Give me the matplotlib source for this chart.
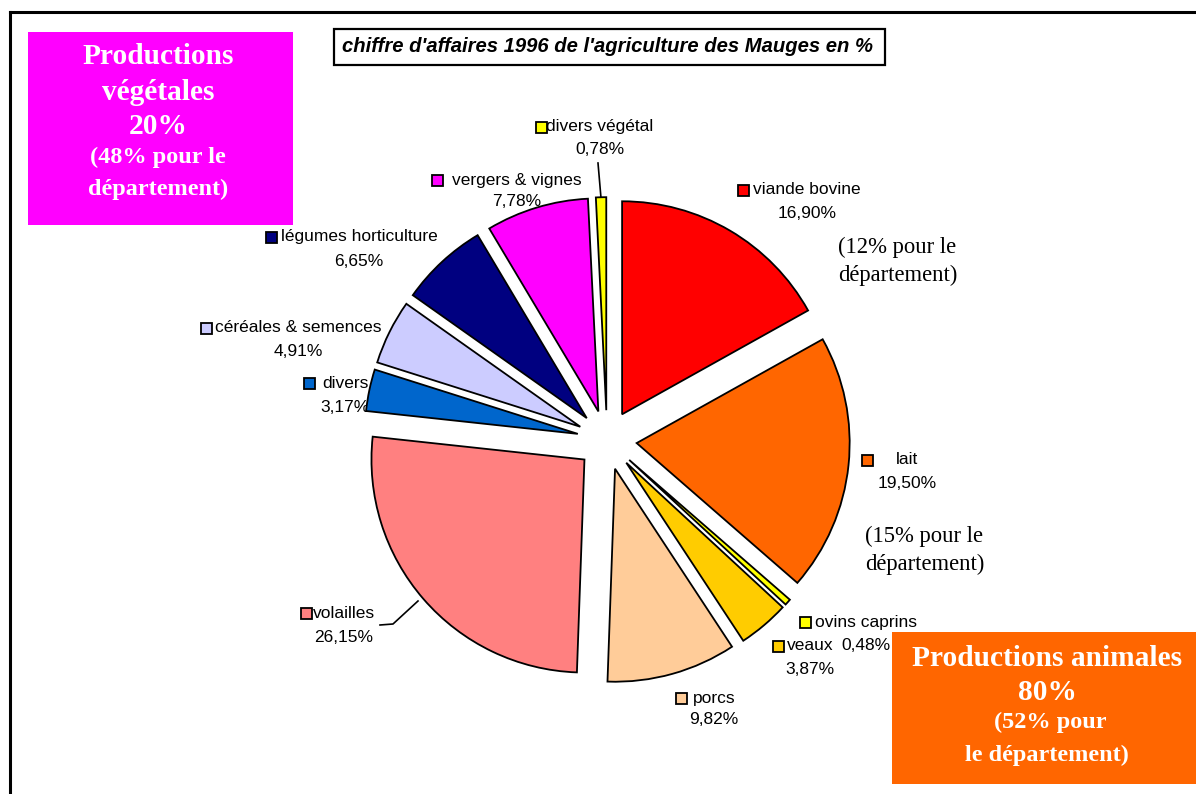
import matplotlib
matplotlib.use("Agg")
import matplotlib.pyplot as plt
from matplotlib.patches import Rectangle
from matplotlib.lines import Line2D

# ---------------- data ----------------
categories = ["viande bovine", "lait", "ovins caprins", "veaux", "porcs", "volailles",
              "divers", "céréales & semences", "légumes horticulture",
              "vergers & vignes", "divers végétal"]
values = [16.90, 19.50, 0.48, 3.87, 9.82, 26.15, 3.17, 4.91, 6.65, 7.78, 0.78]
colors = ["#FF0000", "#FF6600", "#FFFF00", "#FFCC00", "#FFCC99", "#FF8080",
          "#0066CC", "#CCCCFF", "#000080", "#FF00FF", "#FFFF00"]
title = "chiffre d'affaires 1996 de l'agriculture des Mauges en %"
veg_box = ["Productions", "végétales", "20%", "(48% pour le", "département)"]
ani_box = ["Productions animales", "80%", "(52% pour", "le département)"]
note_bovine = ["(12% pour le", "département)"]
note_lait = ["(15% pour le", "département)"]

# ---------------- layout (image pixel coords, y downwards) ----------------
W, H = 1196, 794
# label block: (center x, name y, pct y, square left x)
label_pos = [(807, 190, 213, 738), (907, 460, 483, 862), (866, 622, 645, 800),
             (810, 646, 669, 773), (714, 698, 719, 676), (344, 613, 637, 301),
             (345, 383, 407, 304), (298, 328, 352, 201), (359, 237, 262, 266),
             (517, 180, 201, 432), (600, 127, 150, 536)]
cx, cy, R = 607, 440, 213

fig = plt.figure(figsize=(W / 100, H / 100), dpi=100)
bg = fig.add_axes([0, 0, 1, 1])
bg.set_xlim(0, W)
bg.set_ylim(H, 0)
bg.axis("off")

# pie axes
half = 320
pax = fig.add_axes([(cx - half) / W, (H - cy - half) / H, 2 * half / W, 2 * half / H])
pax.pie(values, colors=colors, startangle=90, counterclock=False,
        explode=[0.14] * len(values), radius=1,
        wedgeprops=dict(edgecolor="black", linewidth=1.3))
lim = half / R
pax.set_xlim(-lim, lim)
pax.set_ylim(-lim, lim)
pax.set_aspect("equal")
pax.axis("off")

sans = "Liberation Sans"
serif = "Liberation Serif"

# frame
bg.add_line(Line2D([10, W], [12, 12], color="black", lw=2.2))
bg.add_line(Line2D([10, 10], [12, H], color="black", lw=2.2))

# title box
bg.add_patch(Rectangle((334, 29), 551, 36, facecolor="white", edgecolor="black", lw=1.6))
bg.text(608, 47, title, fontsize=14.6, fontweight="bold", fontstyle="italic",
        family=sans, ha="center", va="center")

# labels
for name, v, col, (lx, y1, y2, sx) in zip(categories, values, colors, label_pos):
    bg.add_patch(Rectangle((sx, y1 - 5.5), 11, 11, facecolor=col, edgecolor="black", lw=1.3))
    bg.text(lx, y1, name, fontsize=12.5, family=sans, ha="center", va="center")
    bg.text(lx, y2, f"{v:.2f}%".replace(".", ","), fontsize=12.5, family=sans,
            ha="center", va="center")

# leader lines
bg.add_line(Line2D([598, 601], [163, 198], color="black", lw=1.2))
bg.add_line(Line2D([380, 393, 418], [625, 624, 601], color="black", lw=1.2))

# notes
for i, t in enumerate(note_bovine):
    bg.text(838, 247 + 28 * i, t, fontsize=16.3, family=serif, ha="left", va="center")
for i, t in enumerate(note_lait):
    bg.text(865, 536 + 28 * i, t, fontsize=16.3, family=serif, ha="left", va="center")

# magenta box
bg.add_patch(Rectangle((28, 32), 265, 193, facecolor="#FF00FF", edgecolor="none"))
ys = [57, 92, 126, 157, 189]
sizes = [21.2, 21.2, 21.2, 17.5, 17.5]
for t, y, s in zip(veg_box, ys, sizes):
    bg.text(158, y, t, fontsize=s, family=serif, fontweight="bold", color="white",
            ha="center", va="center")

# orange box
bg.add_patch(Rectangle((892, 632), W - 892, 152, facecolor="#FF6600", edgecolor="none"))
ys = [659, 692, 722, 755]
xs = [1047, 1047, 1050, 1047]
sizes = [21.2, 21.2, 17.5, 17.5]
for t, x, y, s in zip(ani_box, xs, ys, sizes):
    bg.text(x, y, t, fontsize=s, family=serif, fontweight="bold", color="white",
            ha="center", va="center")

fig.savefig("out.png", dpi=100)
